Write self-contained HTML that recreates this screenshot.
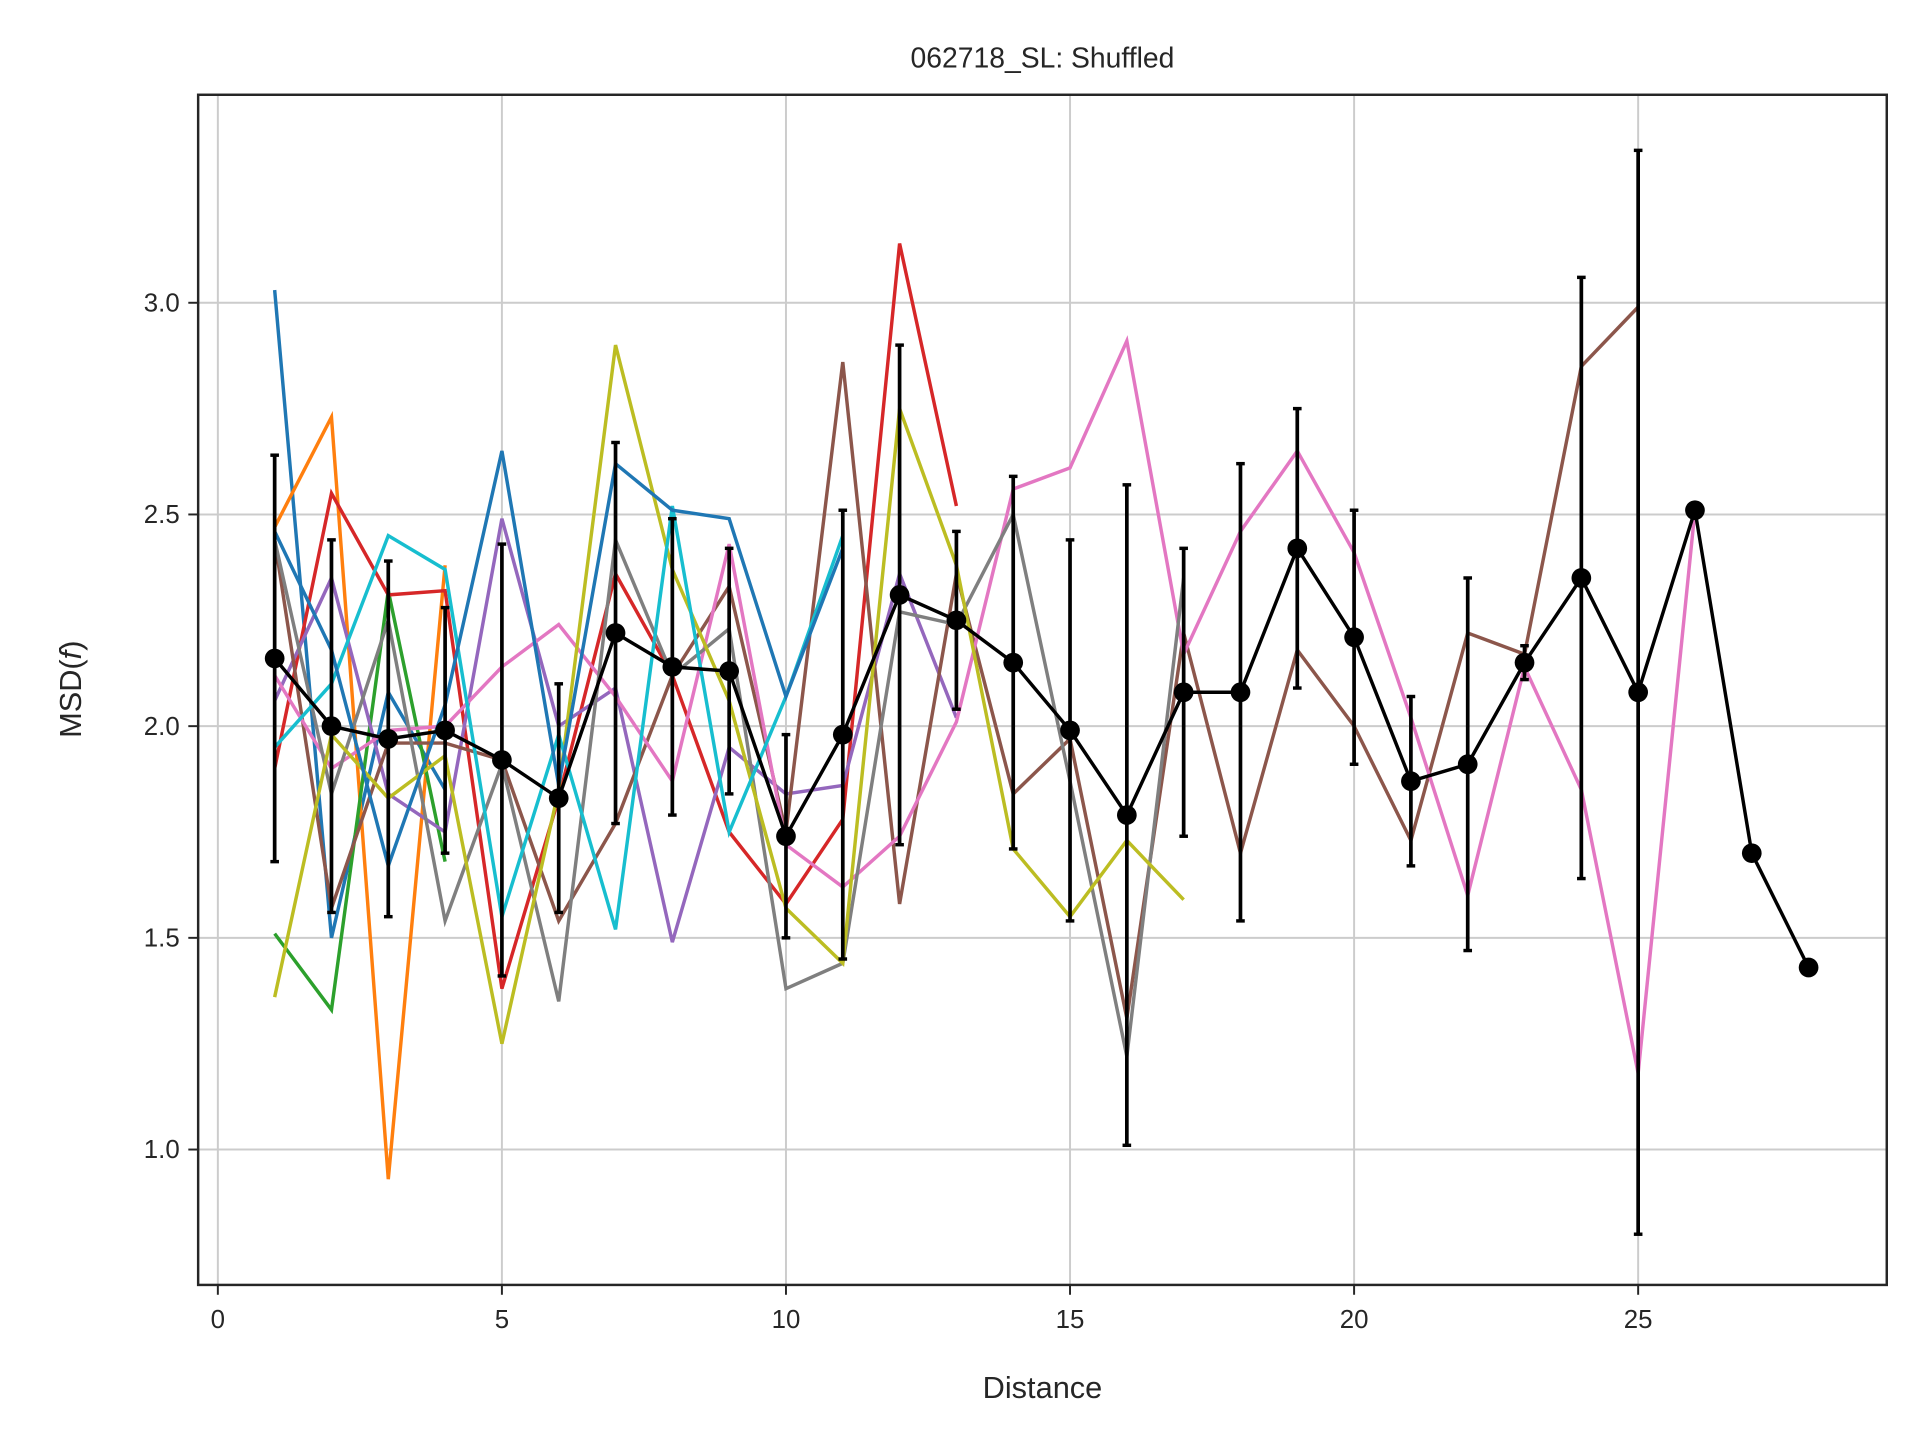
<!DOCTYPE html>
<html><head><meta charset="utf-8"><style>
html,body{margin:0;padding:0;background:#fff;}
svg{display:block;font-family:"Liberation Sans",sans-serif;}
</style></head><body>
<svg id="chart" width="1920" height="1440" viewBox="0 0 1560 1170" xmlns="http://www.w3.org/2000/svg">
<rect x="0" y="0" width="1560" height="1170" fill="#fff"/>
<g id="grid"></g>
<g id="series"></g>
<g id="mean"></g>
<rect x="161" y="77" width="1372" height="967" fill="none" stroke="#262626" stroke-width="2"/>
<g id="ticks"></g>
<text x="847" y="55" text-anchor="middle" font-size="23" fill="#262626">062718_SL: Shuffled</text>
<text x="847" y="1136" text-anchor="middle" font-size="25" fill="#262626">Distance</text>
<text transform="translate(66,560) rotate(-90)" text-anchor="middle" font-size="25" fill="#262626">MSD(<tspan font-style="italic">f</tspan>)</text>
</svg>
<script>
const xTicks=[0,5,10,15,20,25];
const yTicks=[1.0,1.5,2.0,2.5,3.0];
const colors=["#1f77b4","#ff7f0e","#2ca02c","#d62728","#9467bd","#8c564b","#e377c2","#7f7f7f","#bcbd22","#17becf","#1f77b4"];
const s0=[3.03,1.50,2.08,1.85];
const s1=[2.47,2.73,0.93,2.38];
const s2=[1.51,1.33,2.32,1.68];
const s3=[1.90,2.55,2.31,2.32,1.38,1.83,2.36,2.12,1.75,1.58,1.78,3.14,2.52];
const s4=[2.06,2.35,1.84,1.75,2.49,2.00,2.09,1.49,1.95,1.84,1.86,2.36,2.02];
const s5=[2.44,1.57,1.96,1.96,1.92,1.54,1.77,2.12,2.33,1.75,2.86,1.58,2.36,1.84,1.97,1.31,2.22,1.70,2.18,2.00,1.73,2.22,2.17,2.85,2.99];
const s6=[2.12,1.90,1.99,2.00,2.14,2.24,2.07,1.87,2.43,1.72,1.62,1.74,2.01,2.56,2.61,2.91,2.17,2.46,2.65,2.41,2.02,1.60,2.14,1.85,1.18,2.51];
const s7=[2.44,1.84,2.25,1.54,1.91,1.35,2.44,2.12,2.23,1.38,1.44,2.27,2.24,2.50,1.87,1.22,2.35];
const s8=[1.36,1.98,1.83,1.93,1.25,1.85,2.90,2.37,2.06,1.57,1.44,2.75,2.38,1.71,1.55,1.73,1.59];
const s9=[1.95,2.10,2.45,2.37,1.55,1.98,1.52,2.52,1.75,2.07,2.45];
const s10=[2.46,2.18,1.67,2.05,2.65,1.86,2.62,2.51,2.49,2.07,2.42];
const meanVals=[2.16,2.00,1.97,1.99,1.92,1.83,2.22,2.14,2.13,1.74,1.98,2.31,2.25,2.15,1.99,1.79,2.08,2.08,2.42,2.21,1.87,1.91,2.15,2.35,2.08,2.51,1.70,1.43];
const meanErr=[0.48,0.44,0.42,0.29,0.51,0.27,0.45,0.35,0.29,0.24,0.53,0.59,0.21,0.44,0.45,0.78,0.34,0.54,0.33,0.30,0.20,0.44,0.04,0.71,1.28,0,0,0];
const allSeries=[s0,s1,s2,s3,s4,s5,s6,s7,s8,s9,s10];
const NS="http://www.w3.org/2000/svg";
const X=v=>177+v*46.16;
const Y=v=>590-(v-2.0)*344;
function mk(tag,parent,attrs){const e=document.createElementNS(NS,tag);for(const k in attrs)e.setAttribute(k,attrs[k]);parent.appendChild(e);return e;}
const grid=document.getElementById('grid'),ticks=document.getElementById('ticks');
xTicks.forEach(t=>{
 const g=mk('line',grid,{x1:X(t),x2:X(t),y1:77,y2:1044,stroke:'#cccccc','stroke-width':1.6});
 
 
 const tk=mk('line',ticks,{x1:X(t),x2:X(t),y1:1044,y2:1052,stroke:'#262626','stroke-width':1.6});
 
 
 const tl=mk('text',ticks,{x:X(t),y:1079,'text-anchor':'middle','font-size':21,fill:'#262626'});
 tl.textContent=t;
 
 
});
yTicks.forEach(t=>{
 const g=mk('line',grid,{x1:161,x2:1533,y1:Y(t),y2:Y(t),stroke:'#cccccc','stroke-width':1.6});
 
 
 const tk=mk('line',ticks,{x1:153,x2:161,y1:Y(t),y2:Y(t),stroke:'#262626','stroke-width':1.6});
 
 
 const tl=mk('text',ticks,{x:146,y:Y(t)+7,'text-anchor':'end','font-size':21,fill:'#262626'});
 tl.textContent=t.toFixed(1);
 
 
});
const sg=document.getElementById('series');
allSeries.forEach((s,i)=>{
 const p=mk('polyline',sg,{points:s.map((v,j)=>X(j+1)+','+Y(v)).join(' '),fill:'none',stroke:colors[i],'stroke-width':2.8,'stroke-linejoin':'miter'});
 
 
});
const mg=document.getElementById('mean');
meanVals.forEach((v,j)=>{
 const e=meanErr[j];if(e<=0)return;
 const x=X(j+1);
 const l=mk('line',mg,{x1:x,x2:x,y1:Y(v+e),y2:Y(v-e),stroke:'#000','stroke-width':3});
 
 
 [v+e,v-e].forEach(c=>{
  const cp=mk('line',mg,{x1:x-3.5,x2:x+3.5,y1:Y(c),y2:Y(c),stroke:'#000','stroke-width':2.8});
  
  
 });
});
const ml=mk('polyline',mg,{points:meanVals.map((v,j)=>X(j+1)+','+Y(v)).join(' '),fill:'none',stroke:'#000','stroke-width':2.8});


meanVals.forEach((v,j)=>{
 const c=mk('circle',mg,{cx:X(j+1),cy:Y(v),r:8,fill:'#000'});
 
 
});
</script>
</body></html>
